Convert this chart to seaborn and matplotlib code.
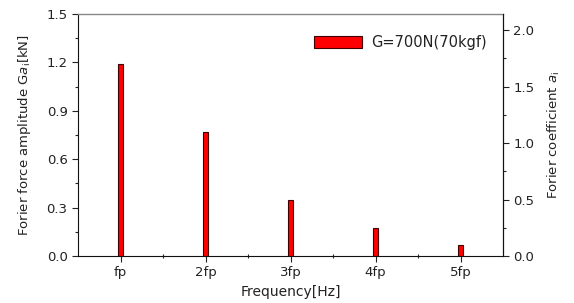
import matplotlib
matplotlib.use("Agg")
import matplotlib.pyplot as plt
import seaborn as sns
import pandas as pd
from matplotlib.ticker import MultipleLocator, FixedLocator

categories = ["fp", "2fp", "3fp", "4fp", "5fp"]
amplitude_kN = [1.19, 0.77, 0.35, 0.175, 0.07]
coefficient = [1.7, 1.1, 0.5, 0.25, 0.1]
series_label = "G=700N(70kgf)"

df = pd.DataFrame({"Frequency": categories, "Amplitude": amplitude_kN,
                   "Coefficient": coefficient, "Series": series_label})

sns.set_style("ticks")
plt.rcParams["font.family"] = ["DejaVu Sans"]
plt.rcParams["font.size"] = 9

fig = plt.figure(figsize=(5.74, 3.03), dpi=100)
ax = fig.add_axes([78/574, 1-256/303, (503-78)/574, (256-14)/303])

sns.barplot(data=df, x="Frequency", y="Amplitude", hue="Series",
            palette=["#ff0000"], saturation=1, width=0.05, edgecolor="#400000",
            linewidth=0.8, ax=ax, legend=True)

ax.set_xlim(-0.5, 4.5)
ax.set_ylim(0, 1.5)
ax.yaxis.set_major_locator(MultipleLocator(0.3))
ax.yaxis.set_minor_locator(MultipleLocator(0.15))
ax.xaxis.set_minor_locator(FixedLocator([0.5, 1.5, 2.5, 3.5]))
ax.yaxis.set_major_formatter(matplotlib.ticker.FormatStrFormatter("%.1f"))
ax.tick_params(axis="both", which="major", length=4, width=0.8, colors="#222222", labelsize=9.5)
ax.tick_params(axis="y", which="minor", length=2, width=0.8)
ax.tick_params(axis="x", which="minor", length=3, width=0.8, direction="inout")
ax.set_xlabel("Frequency[Hz]", fontsize=10, color="#222222", labelpad=4)
ax.set_ylabel(r"Forier force amplitude G$\mathit{a}_{\mathrm{i}}$[kN]", fontsize=9.5, color="#222222", labelpad=10)
for s in ["left", "bottom", "right"]:
    ax.spines[s].set_color("#111111")
    ax.spines[s].set_linewidth(0.8)
ax.spines["top"].set_color("#888888")
ax.spines["top"].set_linewidth(1.0)

leg = ax.legend(loc="upper right", frameon=False, handlelength=3.3, handleheight=0.8,
                handletextpad=0.6, fontsize=10.5, borderaxespad=0.3,
                bbox_to_anchor=(0.985, 0.955))
for t in leg.get_texts():
    t.set_color("#222222")

ax2 = ax.twinx()
ax2.set_ylim(0, 1.5 / 0.7)
ax2.yaxis.set_major_locator(MultipleLocator(0.5))
ax2.yaxis.set_minor_locator(MultipleLocator(0.25))
ax2.yaxis.set_major_formatter(matplotlib.ticker.FormatStrFormatter("%.1f"))
ax2.tick_params(axis="y", which="major", length=4, width=0.8, colors="#222222", labelsize=9.5)
ax2.tick_params(axis="y", which="minor", length=2, width=0.8)
ax2.set_ylabel(r"Forier coefficient $\mathit{a}_{\mathrm{i}}$", fontsize=9.5, color="#222222", labelpad=8)
for k, s in ax2.spines.items():
    s.set_visible(k == "right")
ax2.spines["right"].set_color("#111111")
ax2.spines["right"].set_linewidth(0.8)

fig.savefig("out.png", dpi=100)
